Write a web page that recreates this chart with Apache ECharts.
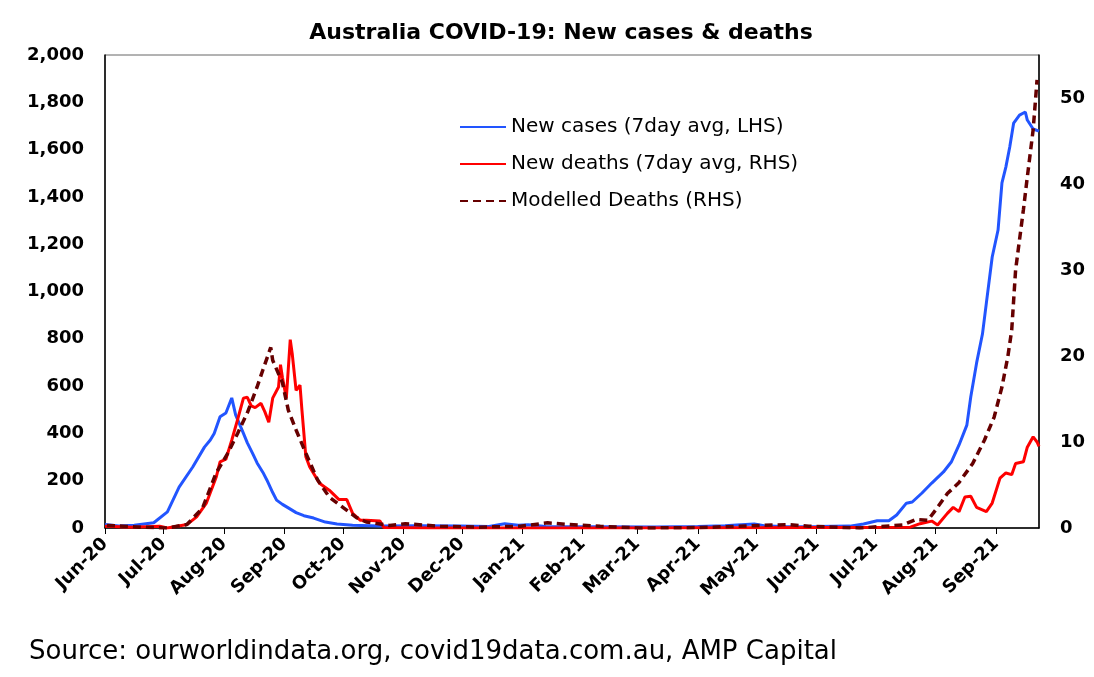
<!DOCTYPE html>
<html>
<head>
<meta charset="utf-8">
<script src="https://cdn.jsdelivr.net/npm/echarts@6/dist/echarts.min.js"></script>
<style>
  html, body { margin: 0; padding: 0; background: #fff; }
  #chart { width: 1094px; height: 677px; }
</style>
</head>
<body>
<div id="chart"></div>
<script>
// new cases, 7 day avg (left axis)
var caseDates = ['2020-06-01','2020-06-08','2020-06-16','2020-06-26','2020-07-03','2020-07-09','2020-07-16','2020-07-22','2020-07-25','2020-07-27','2020-07-30','2020-08-02','2020-08-05','2020-08-07','2020-08-11','2020-08-13','2020-08-16','2020-08-18','2020-08-21','2020-08-23','2020-08-26','2020-08-28','2020-08-31','2020-09-03','2020-09-07','2020-09-11','2020-09-16','2020-09-22','2020-09-28','2020-10-06','2020-10-20','2020-11-10','2020-11-30','2020-12-15','2020-12-20','2020-12-23','2020-12-30','2021-01-04','2021-01-13','2021-02-10','2021-03-10','2021-04-01','2021-04-15','2021-04-21','2021-04-30','2021-05-05','2021-05-17','2021-06-01','2021-06-18','2021-06-25','2021-07-02','2021-07-08','2021-07-12','2021-07-17','2021-07-20','2021-07-25','2021-07-30','2021-08-05','2021-08-09','2021-08-13','2021-08-17','2021-08-19','2021-08-22','2021-08-25','2021-08-27','2021-08-30','2021-09-02','2021-09-04','2021-09-06','2021-09-08','2021-09-10','2021-09-13','2021-09-16','2021-09-17','2021-09-20','2021-09-23'];
var caseValues = [15,8,12,22,68,173,258,342,372,400,470,486,550,478,400,360,310,275,235,203,150,118,100,85,65,52,42,25,17,12,8,10,8,6,14,18,12,14,6,5,4,6,10,13,17,10,5,6,8,17,31,31,55,105,110,148,190,237,279,351,435,554,698,820,951,1146,1260,1459,1526,1611,1712,1746,1759,1725,1687,1678];

// new deaths, 7 day avg (right axis)
var deathDates = ['2020-06-01','2020-06-15','2020-06-29','2020-07-03','2020-07-13','2020-07-18','2020-07-23','2020-07-28','2020-07-30','2020-08-02','2020-08-05','2020-08-08','2020-08-11','2020-08-13','2020-08-15','2020-08-17','2020-08-20','2020-08-22','2020-08-24','2020-08-26','2020-08-29','2020-08-30','2020-08-31','2020-09-02','2020-09-04','2020-09-05','2020-09-07','2020-09-09','2020-09-10','2020-09-12','2020-09-14','2020-09-19','2020-09-24','2020-09-29','2020-10-03','2020-10-06','2020-10-10','2020-10-13','2020-10-20','2020-10-22','2020-11-15','2021-03-01','2021-07-19','2021-07-24','2021-07-30','2021-08-02','2021-08-07','2021-08-10','2021-08-13','2021-08-16','2021-08-19','2021-08-22','2021-08-27','2021-08-30','2021-09-03','2021-09-06','2021-09-09','2021-09-11','2021-09-15','2021-09-17','2021-09-20','2021-09-22','2021-09-23'];
var deathValues = [0.2,0.1,0.2,0,0.4,1.3,2.9,5.9,7.7,8.0,10.2,12.6,15.1,15.2,14.2,14.0,14.5,13.5,12.3,15.1,16.4,19.0,17.5,15.1,21.9,20.3,16.0,16.6,13.7,8.3,7.1,5.2,4.4,3.3,3.3,1.7,0.9,0.9,0.8,0.05,0,0,0.1,0.5,0.8,0.35,1.7,2.4,1.9,3.6,3.7,2.4,1.9,2.9,5.8,6.4,6.2,7.5,7.7,9.4,10.6,10.0,9.5];

// modelled deaths (right axis)
var modelDates = ['2020-06-02','2020-06-19','2020-07-03','2020-07-13','2020-07-21','2020-07-28','2020-08-03','2020-08-08','2020-08-13','2020-08-18','2020-08-21','2020-08-25','2020-08-26','2020-08-31','2020-09-03','2020-09-07','2020-09-12','2020-09-18','2020-09-24','2020-10-01','2020-10-08','2020-10-13','2020-10-25','2020-11-02','2020-11-20','2020-12-10','2020-12-31','2021-01-14','2021-01-25','2021-02-10','2021-03-02','2021-04-02','2021-05-17','2021-05-28','2021-06-23','2021-07-15','2021-07-22','2021-07-28','2021-08-01','2021-08-07','2021-08-13','2021-08-20','2021-08-26','2021-08-31','2021-09-04','2021-09-07','2021-09-09','2021-09-11','2021-09-15','2021-09-17','2021-09-20','2021-09-22'];
var modelValues = [0.3,0.1,0,0.4,2.3,6.4,8.7,11.0,13.4,16.4,18.4,21.0,19.5,16.9,13.7,11.4,8.7,5.6,3.6,2.4,1.2,0.7,0.3,0.5,0.2,0.1,0.2,0.6,0.4,0.2,0,0.05,0.4,0.2,0,0.35,1.0,0.9,2.1,4.0,5.3,7.5,10.2,12.9,16.4,19.9,23.0,30.0,37.0,40.8,46.3,52.1];

var leftTicks = [0, 2000, 200];
var rightTicks = [0, 55, 10];
var months = ['Jan','Feb','Mar','Apr','May','Jun','Jul','Aug','Sep','Oct','Nov','Dec'];

function pairs(dates, vals) {
    return dates.map(function(d, i){ return [d, vals[i]]; });
}

var font = "'DejaVu Sans', sans-serif";
var myChart = echarts.init(document.getElementById('chart'));
var option = {
    backgroundColor: '#fff',
    animation: false,
    title: [
        {
            text: 'Australia COVID-19: New cases & deaths',
            left: 556, top: 17, textAlign: 'center',
            textStyle: {fontFamily: font, fontSize: 22, fontWeight: 'bold', color: '#000'}
        },
        {
            text: 'Source: ourworldindata.org, covid19data.com.au, AMP Capital',
            left: 24, top: 634,
            textStyle: {fontFamily: font, fontSize: 26, fontWeight: 'normal', color: '#000'}
        }
    ],
    legend: {
        orient: 'vertical',
        left: 454, top: 112,
        itemWidth: 46, itemHeight: 14, itemGap: 17,
        itemStyle: {opacity: 0},
        textStyle: {fontFamily: font, fontSize: 20, color: '#000'},
        data: ['New cases (7day avg, LHS)', 'New deaths (7day avg, RHS)', 'Modelled Deaths (RHS)']
    },
    grid: {
        left: 105, right: 55, top: 55, bottom: 149,
        show: true, borderColor: '#666', borderWidth: 1
    },
    xAxis: {
        type: 'time',
        min: '2020-06-01', max: '2021-09-23',
        splitNumber: 16,
        minInterval: 28 * 86400000, maxInterval: 31 * 86400000,
        axisLine: {lineStyle: {color: '#000', width: 1.5}},
        axisTick: {show: true, length: 6, lineStyle: {color: '#000'}},
        splitLine: {show: false},
        axisLabel: {
            rotate: 45, margin: 13,
            fontFamily: font, fontSize: 18, fontWeight: 'bold', color: '#000',
            formatter: function(v){
                var d = new Date(v);
                return months[d.getMonth()] + '-' + String(d.getFullYear()).slice(2);
            }
        }
    },
    yAxis: [
        {
            type: 'value', min: leftTicks[0], max: leftTicks[1], interval: leftTicks[2],
            axisLine: {show: true, lineStyle: {color: '#000', width: 1.5}},
            axisTick: {show: false},
            splitLine: {show: false},
            axisLabel: {
                margin: 21, fontFamily: font, fontSize: 18, fontWeight: 'bold', color: '#000',
                formatter: function(v){ return v.toLocaleString('en-US'); }
            }
        },
        {
            type: 'value', min: rightTicks[0], max: rightTicks[1], interval: rightTicks[2],
            axisLine: {show: true, lineStyle: {color: '#000', width: 1.5}},
            axisTick: {show: false},
            splitLine: {show: false},
            axisLabel: {
                margin: 21, showMaxLabel: false,
                fontFamily: font, fontSize: 18, fontWeight: 'bold', color: '#000'
            }
        }
    ],
    series: [
        {
            name: 'New cases (7day avg, LHS)',
            type: 'line', yAxisIndex: 0, symbol: 'none',
            itemStyle: {color: '#2255ff'},
            lineStyle: {color: '#2255ff', width: 3},
            data: pairs(caseDates, caseValues)
        },
        {
            name: 'New deaths (7day avg, RHS)',
            type: 'line', yAxisIndex: 1, symbol: 'none',
            itemStyle: {color: '#ff0000'},
            lineStyle: {color: '#ff0000', width: 3},
            data: pairs(deathDates, deathValues)
        },
        {
            name: 'Modelled Deaths (RHS)',
            type: 'line', yAxisIndex: 1, symbol: 'none',
            itemStyle: {color: '#660000'},
            lineStyle: {color: '#660000', width: 3.5, type: [8, 5]},
            data: pairs(modelDates, modelValues)
        }
    ]
};
myChart.setOption(option);
</script>
</body>
</html>
